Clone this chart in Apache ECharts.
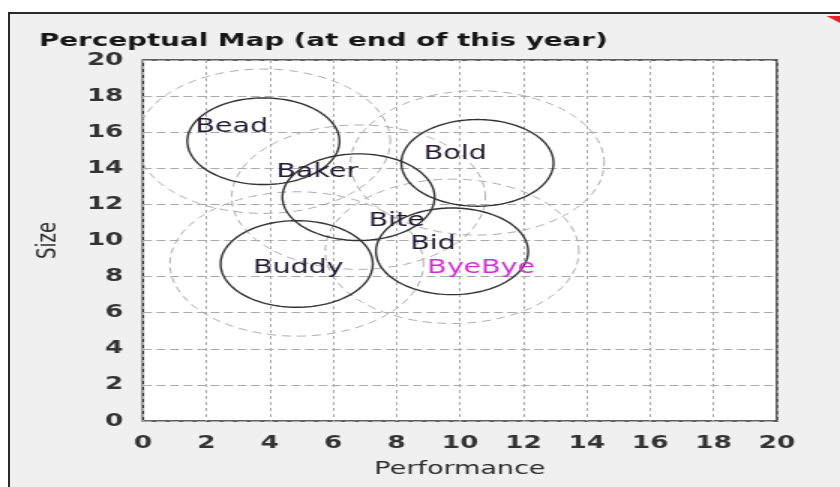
<!DOCTYPE html>
<html>
<head>
<meta charset="utf-8">
<script src="https://cdn.jsdelivr.net/npm/echarts@6/dist/echarts.min.js"></script>
<style>
  html, body { margin: 0; padding: 0; background: #fff; overflow: hidden; }
  .panel {
    position: absolute; left: 8px; top: 12px; width: 840px; height: 480px;
    background: #f0f0f0; border-top: 2px solid #2a2a2a; border-left: 2px solid #2a2a2a;
  }
  /* the source picture is stretched sideways, so the chart is too */
  #perceptualMap {
    position: absolute; left: 0; top: 0; width: 560px; height: 487px;
    transform: scaleX(1.5); transform-origin: 0 0;
  }
</style>
</head>
<body>
<div class="panel"></div>
<div id="perceptualMap"></div>
<script>
// segment circles (centre performance / size)
var circleX = [3.8, 6.8, 10.55, 9.75, 4.85]
var circleY = [15.5, 12.4, 14.3, 9.4, 8.7]
var fineRadius = 2.4
var roughRadius = 4

// products
var productNames = ['Bead', 'Baker', 'Bold', 'Bite', 'Bid', 'ByeBye', 'Buddy']
var productPerf = [2.8, 5.5, 9.85, 8.0, 9.15, 10.67, 4.9]
var productSize = [16.3, 13.8, 14.8, 11.05, 9.8, 8.45, 8.45]
var productColors = ['#21182f', '#21182f', '#21182f', '#21182f', '#21182f', '#d02fd0', '#21182f']

var axisTicks = [0, 2, 4, 6, 8, 10, 12, 14, 16, 18, 20]

var centers = circleX.map(function (x, i) { return [x, circleY[i]] })

function ring(radius, style) {
  return function (params, api) {
    var cx = api.value(0)
    var cy = api.value(1)
    var pts = []
    for (var i = 0; i < 120; i++) {
      var t = i / 120 * Math.PI * 2
      pts.push(api.coord([cx + radius * Math.cos(t), cy + radius * Math.sin(t)]))
    }
    return { type: 'polygon', shape: { points: pts }, style: style }
  }
}

var chart = echarts.init(document.getElementById('perceptualMap'))
var option = {
  animation: false,
  backgroundColor: 'transparent',
  title: {
    text: 'Perceptual Map (at end of this year)',
    left: 21,
    top: 27,
    textStyle: { fontFamily: 'DejaVu Sans', fontWeight: 'bold', fontSize: 18.5, color: '#161616' }
  },
  graphic: [{
    type: 'polygon',
    shape: { points: [[551, 16], [560, 16], [560, 23]] },
    style: { fill: '#e8222a' }
  }],
  grid: {
    left: 95.3, right: 42, top: 60, height: 361,
    show: true, backgroundColor: '#fff', borderColor: '#2e2e2e', borderWidth: 1.5
  },
  xAxis: {
    type: 'value', min: 0, max: 20, interval: 2,
    name: 'Performance', nameLocation: 'middle', nameGap: 39,
    nameTextStyle: { fontFamily: 'DejaVu Sans', fontSize: 18, color: '#2a2a2a' },
    axisLine: { show: false }, axisTick: { show: false },
    axisLabel: {
      margin: 13, fontFamily: 'DejaVu Sans', fontWeight: 'bold', fontSize: 17.5, color: '#333',
      formatter: function (v) { return axisTicks.indexOf(v) >= 0 ? String(v) : '' }
    },
    splitLine: { lineStyle: { color: '#aaa', type: [3, 3], width: 1 } }
  },
  yAxis: {
    type: 'value', min: 0, max: 20, interval: 2,
    name: 'Size', nameLocation: 'middle', nameGap: 54, nameRotate: 90,
    nameTextStyle: { fontFamily: 'DejaVu Sans', fontSize: 18, color: '#2a2a2a' },
    axisLine: { show: false }, axisTick: { show: false },
    axisLabel: { margin: 13, fontFamily: 'DejaVu Sans', fontWeight: 'bold', fontSize: 17.5, color: '#333' },
    splitLine: { lineStyle: { color: '#aaa', type: [6, 3], width: 1 } }
  },
  series: [
    {
      type: 'custom', clip: true, data: centers,
      renderItem: ring(roughRadius, { fill: 'none', stroke: '#aeaeae', lineWidth: 1, lineDash: [6, 4] })
    },
    {
      type: 'custom', clip: true, data: centers,
      renderItem: ring(fineRadius, { fill: 'none', stroke: '#333', lineWidth: 1.4 })
    },
    {
      type: 'custom',
      data: productNames.map(function (n, i) { return [productPerf[i], productSize[i], i] }),
      renderItem: function (params, api) {
        var p = api.coord([api.value(0), api.value(1)])
        var i = api.value(2)
        return {
          type: 'text', x: p[0], y: p[1],
          style: {
            text: productNames[i], fill: productColors[i],
            font: '19px "DejaVu Sans"', align: 'center', verticalAlign: 'middle'
          }
        }
      }
    }
  ]
}
option && chart.setOption(option)
</script>
</body>
</html>
